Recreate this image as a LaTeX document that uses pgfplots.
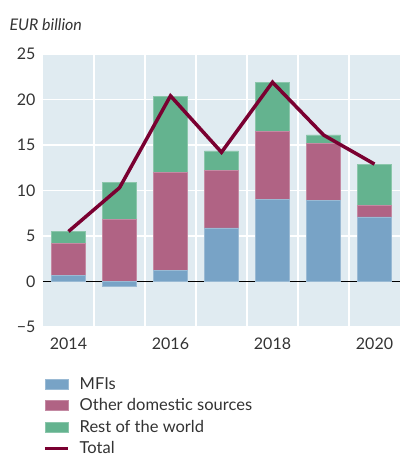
\documentclass[border=0pt]{standalone}
\usepackage{fontspec}
\setmainfont{Lato}
\usepackage{pgfplots}
\usepackage{pgfplotstable}
\pgfplotsset{compat=1.18}
\definecolor{bgc}{HTML}{E0EBF1}
\definecolor{mfi}{HTML}{78A3C6}
\definecolor{oth}{HTML}{B06384}
\definecolor{row}{HTML}{64B38F}
\definecolor{tot}{HTML}{7A0031}
\definecolor{txt}{HTML}{333333}

\pgfplotstableread{
year mfi   oth   row  tot
2014 0.70  3.45  1.35 5.5
2015 -0.55 6.85  4.00 10.3
2016 1.20  10.75 8.40 20.4
2017 5.90  6.35  2.10 14.2
2018 9.00  7.50  5.35 21.9
2019 8.90  6.30  0.90 16.1
2020 7.10  1.25  4.55 12.9
}\flows

\pgfplotsset{
  base/.style={
    width=357pt, height=273pt, scale only axis,
    xmin=2013.5, xmax=2020.5, ymin=-5, ymax=25,
  },
  barleg/.style={legend image code/.code={\fill[##1] (0pt,-5pt) rectangle (23pt,5pt);}},
}

\begin{document}
\begin{tikzpicture}
\useasboundingbox (-43pt,-129pt) rectangle (357pt,327pt);
\begin{axis}[
  base,
  ybar stacked, stack negative=separate, bar width=0.67,
  axis background/.style={fill=bgc},
  axis line style={draw=none},
  major tick length=0pt, minor tick length=0pt,
  xtick={2014,2016,2018,2020},
  xticklabels={2014,2016,2018,2020},
  minor xtick={2014.5,2015.5,2016.5,2017.5,2018.5,2019.5},
  ytick={-5,0,5,10,15,20,25},
  yticklabels={−5,0,5,10,15,20,25},
  ymajorgrids, xminorgrids,
  major grid style={white, line width=1.3pt},
  minor grid style={white, line width=1.3pt},
  ticklabel style={font=\fontsize{16}{18}\selectfont, text=txt},
  yticklabel style={xshift=-4pt},
  xticklabel style={yshift=-7pt},
  legend style={at={(0,0)}, anchor=north west, yshift=-48pt, draw=none, fill=none,
    inner sep=0pt, font=\fontsize{16.5}{18}\selectfont, text=txt, row sep=4pt,
    /tikz/every odd column/.append style={column sep=8pt}},
  legend cell align=left,
  clip=false,
]
\addplot[fill=mfi, draw=mfi!75!white, line width=0.6pt, barleg] table[x=year, y=mfi] {\flows};
\addlegendentry{MFIs}
\addplot[fill=oth, draw=oth!75!white, line width=0.6pt, barleg] table[x=year, y=oth] {\flows};
\addlegendentry{Other domestic sources}
\addplot[fill=row, draw=row!75!white, line width=0.6pt, barleg] table[x=year, y=row] {\flows};
\addlegendentry{Rest of the world}
\addlegendimage{legend image code/.code={\draw[tot, line width=3.5pt] (0pt,0pt) -- (23pt,0pt);}}
\addlegendentry{Total}
\draw[black, line width=0.8pt] (axis cs:2013.5,0) -- (axis cs:2020.5,0);
\node[anchor=west, font=\fontsize{16}{18}\selectfont\itshape, text=txt] at ([xshift=-37pt, yshift=29pt]rel axis cs:0,1) {EUR billion};
\end{axis}
\begin{axis}[
  base, hide axis,
]
\addplot[tot, line width=3.5pt, line join=miter, no marks] table[x=year, y=tot] {\flows};
\end{axis}
\end{tikzpicture}
\end{document}
